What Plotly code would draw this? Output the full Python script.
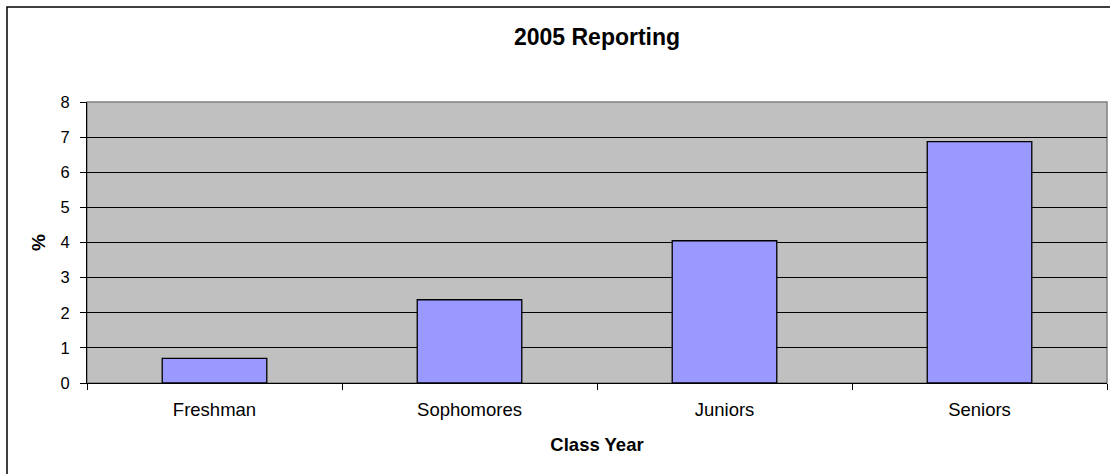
import plotly.graph_objects as go

categories = ["Freshman", "Sophomores", "Juniors", "Seniors"]
values = [0.70, 2.37, 4.05, 6.87]
y_ticks = [0, 1, 2, 3, 4, 5, 6, 7, 8]

fig = go.Figure()
fig.add_trace(go.Bar(
    x=categories, y=values,
    marker=dict(color="#9999FF", line=dict(color="#000000", width=1.3)),
    width=0.41,
))

W, H = 1110, 474
ml, mr, mt, mb = 87, 3, 102, 91
pw = W - ml - mr
ph = H - mt - mb

def px(x):
    return (x - ml) / pw

def py(y):
    return (H - mb - y) / ph

fig.update_layout(
    width=W, height=H,
    margin=dict(l=ml, r=mr, t=mt, b=mb),
    paper_bgcolor="white",
    plot_bgcolor="#C0C0C0",
    font=dict(family="Liberation Sans, Arial, sans-serif", size=16, color="black"),
    title=dict(text="<b>2005 Reporting</b>", x=0.5, xanchor="center", xref="paper",
               y=1 - 37 / H, yanchor="middle", font=dict(size=23)),
    showlegend=False,
    xaxis=dict(
        tickson="boundaries", ticks="outside", ticklen=6, tickcolor="black",
        showline=True, linecolor="black", linewidth=1, mirror=False,
        showgrid=False,
        tickfont=dict(size=18.5),
        ticklabelstandoff=10,
        title=dict(text="<b>Class Year</b>", font=dict(size=18.5), standoff=18),
    ),
    yaxis=dict(
        range=[0, 8], tickvals=y_ticks, ticks="outside", ticklen=6, tickcolor="black",
        showline=True, linecolor="black", linewidth=1,
        showgrid=True, gridcolor="black", gridwidth=1,
        zeroline=False, tickfont=dict(size=16.5),
        ticklabelstandoff=7,
        title=dict(text="<b>%</b>", font=dict(size=19), standoff=9),
    ),
    shapes=[
        dict(type="rect", xref="paper", yref="paper",
             x0=0, x1=1, y0=0, y1=1,
             line=dict(color="#808080", width=1.5), layer="below"),
        dict(type="rect", xref="paper", yref="paper",
             x0=px(7), x1=px(W + 10), y0=py(H + 10), y1=py(7),
             line=dict(color="black", width=1.5), fillcolor="rgba(0,0,0,0)"),
    ],
)

fig.write_html("out.html", config={"displayModeBar": False},
               post_script="document.body.style.margin='0';")
